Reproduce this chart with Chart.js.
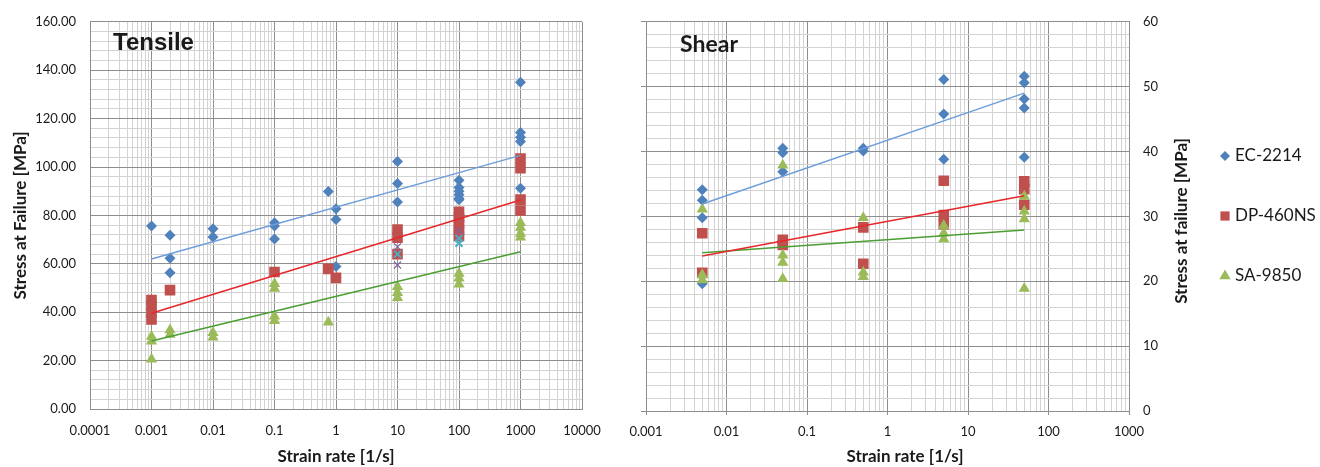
<!DOCTYPE html>
<html>
<head>
<meta charset="utf-8">
<script src="https://cdn.jsdelivr.net/npm/chart.js@4.4.1/dist/chart.umd.min.js"></script>
<style>
  html, body { margin: 0; padding: 0; background: #fff; }
  #tensileBox { position: absolute; left: 0; top: 0; }
  #shearBox { position: absolute; left: 620px; top: 0; }
</style>
</head>
<body>
<div id="tensileBox"><canvas id="chartTensile" width="620" height="467"></canvas></div>
<div id="shearBox"><canvas id="chartShear" width="700" height="467"></canvas></div>
<script>
// ---- data ----
const seriesNames = ['EC-2214', 'DP-460NS', 'SA-9850'];

// tensile: strain rates and the stress values measured at each rate
const tensileRates = [0.001, 0.002, 0.01, 0.1, 0.75, 1, 10, 100, 1000];
const tensileEC = [[75.6], [71.8, 62.3, 56.3], [74.5, 71.1], [77.0, 75.6, 70.2], [89.9], [82.7, 78.3, 58.9],
                   [102.3, 93.2, 85.5], [94.5, 91.5, 90.0, 88.5, 87.0, 86.5], [135.0, 114.3, 112.3, 110.5, 91.2]];
const tensileDP = [[45.0, 43.0, 40.0, 37.0], [49.1], [], [56.6], [57.9], [54.2],
                   [74.2, 70.8, 64.0], [81.5, 79.0, 76.5, 74.0, 71.5], [103.5, 99.5, 86.5, 82.0]];
const tensileSA = [[30.0, 28.0, 20.6], [32.6, 30.8], [31.5, 29.7], [51.8, 49.8, 38.3, 36.5], [35.8], [],
                   [50.5, 48.0, 46.0], [56.0, 54.0, 51.5], [77.0, 75.0, 72.5, 71.0]];
const tensileS4 = [[], [], [], [], [], [], [67.0, 59.5], [73.5], []];
const tensileS5 = [[], [], [], [], [], [], [64.0], [70.5, 68.5], []];
const tensileTrendX = [0.001, 1000];
const tensileTrendEC = [62.0, 104.8];
const tensileTrendDP = [39.6, 86.4];
const tensileTrendSA = [28.1, 65.0];
const tensileDecades = [0.0001, 0.001, 0.01, 0.1, 1, 10, 100, 1000, 10000];
const tensileXLabels = ['0.0001', '0.001', '0.01', '0.1', '1', '10', '100', '1000', '10000'];
const tensileYMajor = [0, 20, 40, 60, 80, 100, 120, 140, 160];

// shear
const shearRates = [0.005, 0.05, 0.5, 5, 50];
const shearEC = [[34.1, 32.5, 29.8, 19.6], [40.5, 39.8, 36.9], [40.5, 40.1], [51.1, 45.8, 38.8], [51.6, 50.6, 48.1, 46.7, 39.1]];
const shearDP = [[27.4, 21.3], [26.4, 25.6], [28.3, 22.7], [35.5, 30.2, 28.8], [35.4, 34.2, 31.8]];
const shearSA = [[31.1, 21.0, 20.2], [37.9, 24.0, 22.9, 20.4], [29.8, 21.4, 20.7], [28.6, 27.4, 26.5], [33.1, 30.8, 29.6, 18.9]];
const shearTrendX = [0.005, 50];
const shearTrendEC = [31.9, 49.0];
const shearTrendDP = [23.9, 33.2];
const shearTrendSA = [24.4, 27.9];
const shearDecades = [0.001, 0.01, 0.1, 1, 10, 100, 1000];
const shearXLabels = ['0.001', '0.01', '0.1', '1', '10', '100', '1000'];
const shearYMajor = [0, 10, 20, 30, 40, 50, 60];

// ---- styling ----
const MAJOR = '#8e8e8e', MINOR = '#d3d3d3', TEXT = '#1a1a1a';
const BLUE = '#4F81BD', RED = '#C0504D', GREEN = '#9BBB59';
Chart.defaults.font.family = 'Lato, "Open Sans", sans-serif';
Chart.defaults.color = TEXT;

function toPoints(rates, groups) {
  const pts = [];
  rates.forEach((r, i) => groups[i].forEach(v => pts.push({ x: r, y: v })));
  return pts;
}
function trendPoints(xs, ys) {
  return xs.map((x, i) => ({ x: x, y: ys[i] }));
}
// grid positions 1..9 in every decade, decade lines flagged
function logGridTicks(decades) {
  const t = [];
  decades.forEach((d, i) => {
    t.push({ value: d, dec: i });
    if (i < decades.length - 1) for (let k = 2; k < 10; k++) t.push({ value: k * d });
  });
  return t;
}
function linGridTicks(max, step) {
  const t = [];
  for (let v = 0; v <= max + 1e-9; v += step) t.push({ value: v });
  return t;
}

function marker(label, data, style, radius, color, order) {
  return { label, data, pointStyle: style, pointRadius: radius, pointHoverRadius: radius,
           backgroundColor: color, borderColor: color, borderWidth: 0, showLine: false, order };
}
function trendLine(label, data, color) {
  return { label, data, showLine: true, borderColor: color, borderWidth: 1.5, pointRadius: 0, fill: false, order: 0 };
}

function logXAxis(decades, labels, tickLen, pad, withTitle) {
  return {
    type: 'logarithmic', min: decades[0], max: decades[decades.length - 1],
    afterBuildTicks: s => { s.ticks = logGridTicks(decades); },
    afterFit: s => { s.height = withTitle ? 58 : 56; },
    ticks: { autoSkip: false, maxRotation: 0, minRotation: 0, padding: pad, font: { size: 13 },
             callback: (v, i, t) => (t[i].dec !== undefined ? labels[t[i].dec] : '') },
    grid: { color: c => (c.tick && c.tick.dec !== undefined ? MAJOR : MINOR),
            drawTicks: tickLen > 0, tickLength: tickLen,
            tickColor: c => (c.tick && c.tick.dec !== undefined ? MAJOR : 'rgba(0,0,0,0)') },
    border: { display: true, color: MAJOR },
    title: { display: withTitle, text: 'Strain rate [1/s]', font: { size: 17, weight: 'bold' }, padding: { top: 0, bottom: 0 } }
  };
}

// text & legend drawn on top of the chart
const overlay = {
  id: 'overlay',
  afterDraw(chart, args, opts) {
    const ctx = chart.ctx;
    (opts.texts || []).forEach(t => {
      ctx.save();
      ctx.font = t.font;
      ctx.fillStyle = TEXT;
      ctx.textAlign = t.align || 'left';
      ctx.textBaseline = 'middle';
      ctx.translate(t.x, t.y);
      ctx.rotate(t.rot || 0);
      ctx.fillText(t.text, 0, 0);
      ctx.restore();
    });
    if (opts.legend) {
      const L = opts.legend;
      seriesNames.forEach((name, i) => {
        const d = chart.data.datasets.find(ds => ds.label === name && !ds.showLine);
        const y = L.y + i * L.gap;
        ctx.save();
        ctx.fillStyle = d.backgroundColor;
        ctx.strokeStyle = d.borderColor;
        Chart.helpers.drawPoint(ctx, { pointStyle: d.pointStyle, radius: L.radius[i], rotation: 0, borderWidth: 0 }, L.x, y);
        ctx.font = L.font;
        ctx.fillStyle = TEXT;
        ctx.textAlign = 'left';
        ctx.textBaseline = 'middle';
        ctx.fillText(name, L.x + L.textGap, y);
        ctx.restore();
      });
    }
  }
};

// ---- tensile ----
new Chart(document.getElementById('chartTensile'), {
  type: 'scatter',
  data: {
    datasets: [
      trendLine('trend EC', trendPoints(tensileTrendX, tensileTrendEC), '#6E9DDB'),
      trendLine('trend DP', trendPoints(tensileTrendX, tensileTrendDP), '#E8262B'),
      trendLine('trend SA', trendPoints(tensileTrendX, tensileTrendSA), '#4B9E32'),
      { label: 'Series 5', data: toPoints(tensileRates, tensileS5), pointStyle: 'crossRot', pointRadius: 5,
        borderColor: '#4BACC6', backgroundColor: '#4BACC6', borderWidth: 2, showLine: false, order: 1 },
      { label: 'Series 4', data: toPoints(tensileRates, tensileS4), pointStyle: 'crossRot', pointRadius: 5,
        borderColor: '#8064A2', backgroundColor: '#8064A2', borderWidth: 1.2, showLine: false, order: 2 },
      marker(seriesNames[2], toPoints(tensileRates, tensileSA), 'triangle', 6.5, GREEN, 3),
      marker(seriesNames[1], toPoints(tensileRates, tensileDP), 'rect', 7.5, RED, 4),
      marker(seriesNames[0], toPoints(tensileRates, tensileEC), 'rectRot', 5.5, BLUE, 5)
    ]
  },
  options: {
    responsive: false, animation: false, devicePixelRatio: 1,
    layout: { padding: { top: 16, right: 38, left: 0, bottom: 0 } },
    plugins: {
      legend: { display: false }, tooltip: { enabled: false },
      overlay: { texts: [{ text: 'Tensile', x: 113, y: 43, font: 'bold 24px "Liberation Sans", Arial, sans-serif' }] }
    },
    scales: {
      x: logXAxis(tensileDecades, tensileXLabels, 0, 14, true),
      y: {
        min: 0, max: 160,
        afterBuildTicks: s => { s.ticks = linGridTicks(160, 4); },
        afterFit: s => { s.width = 90; },
        ticks: { autoSkip: false, padding: 14, font: { size: 13 },
                 callback: v => (tensileYMajor.includes(v) ? v.toFixed(2) : '') },
        grid: { color: c => (c.tick && tensileYMajor.includes(c.tick.value) ? MAJOR : MINOR), drawTicks: false },
        border: { display: true, color: MAJOR },
        title: { display: true, text: 'Stress at Failure [MPa]', font: { size: 17, weight: 'bold' }, padding: { top: 10, bottom: 0 } }
      }
    }
  },
  plugins: [overlay]
});

// ---- shear ----
new Chart(document.getElementById('chartShear'), {
  type: 'scatter',
  data: {
    datasets: [
      trendLine('trend EC', trendPoints(shearTrendX, shearTrendEC), '#6E9DDB'),
      trendLine('trend DP', trendPoints(shearTrendX, shearTrendDP), '#E8262B'),
      trendLine('trend SA', trendPoints(shearTrendX, shearTrendSA), '#4B9E32'),
      marker(seriesNames[2], toPoints(shearRates, shearSA), 'triangle', 6.5, GREEN, 3),
      marker(seriesNames[1], toPoints(shearRates, shearDP), 'rect', 7.5, RED, 4),
      marker(seriesNames[0], toPoints(shearRates, shearEC), 'rectRot', 5.5, BLUE, 5)
    ]
  },
  options: {
    responsive: false, animation: false, devicePixelRatio: 1,
    layout: { padding: { top: 17, right: 0, left: 0, bottom: 0 } },
    plugins: {
      legend: { display: false }, tooltip: { enabled: false },
      overlay: {
        texts: [
          { text: 'Shear', x: 60, y: 45, font: 'bold 23px Lato, sans-serif' },
          { text: 'Stress at failure [MPa]', x: 562, y: 221, rot: -Math.PI / 2, align: 'center', font: 'bold 17px Lato, sans-serif' },
          { text: 'Strain rate [1/s]', x: 285, y: 457, align: 'center', font: 'bold 17px Lato, sans-serif' }
        ],
        legend: { x: 605, y: 156, gap: 60, textGap: 10, radius: [5, 6.5, 6.5], font: '17px Lato, sans-serif' }
      }
    },
    scales: {
      x: logXAxis(shearDecades, shearXLabels, 4, 9, false),
      yL: {
        position: 'left', min: 0, max: 60,
        afterBuildTicks: s => { s.ticks = linGridTicks(60, 2); },
        afterFit: s => { s.width = 26; },
        ticks: { display: false },
        grid: { drawOnChartArea: false, drawTicks: true, tickLength: 5,
                tickColor: c => (c.tick && shearYMajor.includes(c.tick.value) ? MAJOR : 'rgba(0,0,0,0)') },
        border: { display: true, color: MAJOR }
      },
      y: {
        position: 'right', min: 0, max: 60,
        afterBuildTicks: s => { s.ticks = linGridTicks(60, 2); },
        afterFit: s => { s.width = 191; },
        ticks: { autoSkip: false, padding: 14, font: { size: 13 },
                 callback: v => (shearYMajor.includes(v) ? String(v) : '') },
        grid: { color: c => (c.tick && shearYMajor.includes(c.tick.value) ? MAJOR : MINOR), drawTicks: false },
        border: { display: true, color: MAJOR }
      }
    }
  },
  plugins: [overlay]
});
</script>
</body>
</html>
